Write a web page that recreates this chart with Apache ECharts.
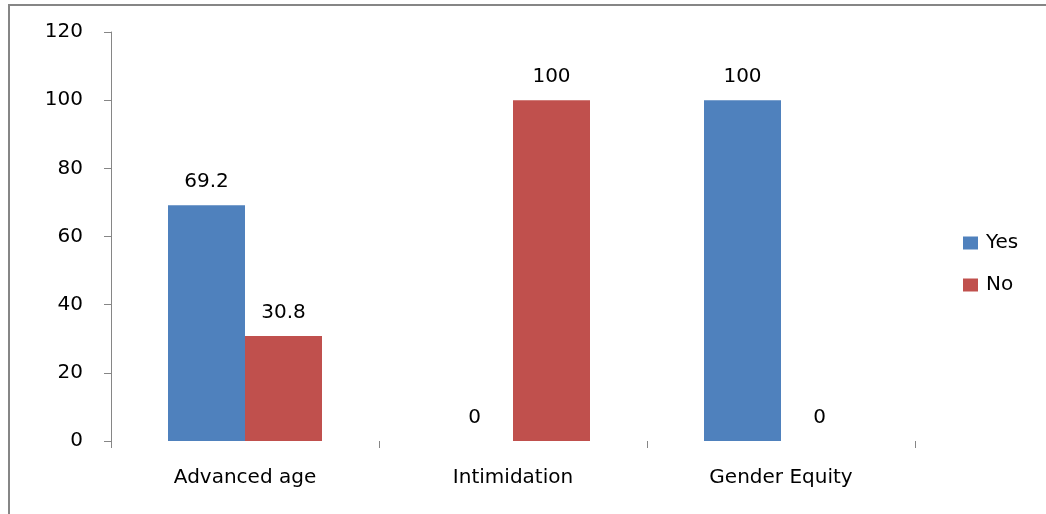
<!DOCTYPE html>
<html>
<head>
<meta charset="utf-8">
<script src="https://cdn.jsdelivr.net/npm/echarts@6/dist/echarts.min.js"></script>
<style>
  html, body { margin: 0; padding: 0; background: #ffffff; }
  #chart { width: 1046px; height: 514px; }
</style>
</head>
<body>
<div id="chart"></div>
<script>
// Categories and percentage values per answer
const categories = ['Advanced age', 'Intimidation', 'Gender Equity'];
const yesValues = [69.2, 0, 100];
const noValues = [30.8, 100, 0];
const yTicks = [0, 20, 40, 60, 80, 100, 120];

const FONT = 'DejaVu Sans';
const FS = 20;
const chart = echarts.init(document.getElementById('chart'), null, { renderer: 'canvas' });

const labelStyle = {
  show: true,
  position: 'top',
  distance: 13,
  color: '#000',
  fontFamily: FONT,
  fontSize: FS
};

chart.setOption({
  animation: false,
  backgroundColor: '#ffffff',
  graphic: [{
    type: 'rect',
    shape: { x: 9, y: 5, width: 1060, height: 540 },
    style: { fill: 'none', stroke: '#868686', lineWidth: 2 },
    silent: true
  }],
  grid: { left: 111, right: 131, top: 32, bottom: 73 },
  legend: {
    orient: 'vertical',
    left: 958,
    top: 228,
    itemWidth: 15,
    itemHeight: 13,
    itemGap: 22,
    icon: 'rect',
    textStyle: { fontFamily: FONT, fontSize: FS, color: '#000', padding: [0, 0, 0, 3] },
    data: ['Yes', 'No']
  },
  xAxis: {
    type: 'category',
    data: categories,
    axisLine: { show: false },
    axisTick: { show: true, length: 7, lineStyle: { color: '#868686', width: 1 } },
    axisLabel: { margin: 27, color: '#000', fontFamily: FONT, fontSize: FS }
  },
  yAxis: {
    type: 'value',
    min: yTicks[0],
    max: yTicks[yTicks.length - 1],
    interval: 20,
    splitLine: { show: false },
    axisLine: { show: true, lineStyle: { color: '#868686', width: 1 } },
    axisTick: { show: true, length: 7, lineStyle: { color: '#868686' } },
    axisLabel: { margin: 28, color: '#000', fontFamily: FONT, fontSize: FS }
  },
  series: [
    {
      name: 'Yes',
      type: 'bar',
      data: yesValues,
      barWidth: 77,
      barGap: '0%',
      itemStyle: { color: '#4F81BD' },
      label: labelStyle
    },
    {
      name: 'No',
      type: 'bar',
      data: noValues,
      barWidth: 77,
      barGap: '0%',
      itemStyle: { color: '#C0504D' },
      label: labelStyle
    }
  ]
});
</script>
</body>
</html>
